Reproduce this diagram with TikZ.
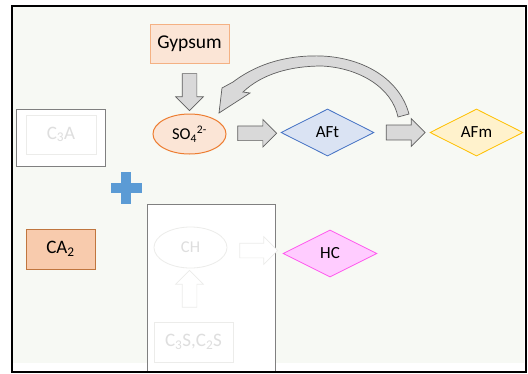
\documentclass[tikz,border=0pt]{standalone}
\usepackage{fontspec}
\setmainfont{Carlito}
\usetikzlibrary{shapes.geometric, shapes.arrows, calc}
\definecolor{panelbg}{HTML}{F7F9F4}
\definecolor{peachfill}{HTML}{FBE5D6}
\definecolor{peachedge}{HTML}{F4B183}
\definecolor{orangeedge}{HTML}{ED7D31}
\definecolor{aftfill}{HTML}{DAE3F3}
\definecolor{aftedge}{HTML}{4472C4}
\definecolor{afmfill}{HTML}{FFF2CC}
\definecolor{afmedge}{HTML}{FFC000}
\definecolor{hcfill}{HTML}{FFCCFF}
\definecolor{hcedge}{HTML}{FF55EE}
\definecolor{cafill}{HTML}{F8CBAD}
\definecolor{caedge}{HTML}{C0763F}
\definecolor{arrowfill}{HTML}{D9D9D9}
\definecolor{arrowedge}{HTML}{5F5F5F}
\definecolor{plusblue}{HTML}{5B9BD5}
\definecolor{faintedge}{HTML}{ECECEA}
\definecolor{fainttext}{HTML}{DEDEDE}

\begin{document}
\begin{tikzpicture}[x=1pt, y=-1pt,
  box/.style={rectangle, draw, line width=0.8pt, inner sep=0pt, font=\fontsize{19}{21}\selectfont},
  gem/.style={diamond, aspect=2, draw, line width=0.8pt, inner sep=0pt, minimum width=93pt, minimum height=47pt, font=\fontsize{17}{19}\selectfont},
  blockarrow/.style={single arrow, draw=arrowedge, fill=arrowfill, line width=0.7pt, inner sep=7pt, minimum width=27pt, single arrow head extend=6.5pt},
  faintarrow/.style={blockarrow, draw=faintedge, fill=white}
]
  \useasboundingbox (0,0) rectangle (528,373);
  % panel
  \fill[white] (0,0) rectangle (528,373);
  \fill[panelbg] (13,7) rectangle (524,363);

  % sulfate route
  \node[box, draw=peachedge, fill=peachfill, minimum width=79pt, minimum height=39pt, font=\fontsize{19.5}{21}\selectfont] (gypsum) at (189.5,43.5) {Gypsum};
  \node[ellipse, draw=orangeedge, fill=peachfill, line width=1pt, inner sep=0pt, minimum width=73pt, minimum height=40pt, font=\fontsize{16.5}{18}\selectfont] (so4) at (189.5,134) {SO\textsubscript{4}\textsuperscript{2-}};
  \node[gem, draw=aftedge, fill=aftfill] (aft) at (327.5,132.5) {AFt};
  \node[gem, draw=afmedge, fill=afmfill] (afm) at (476.5,132.5) {AFm};

  \node[blockarrow, minimum height=37pt, shape border rotate=270] (gyparrow) at ($(gypsum.south)!0.5!(so4.north)$) {};
  \node[blockarrow, minimum height=39pt] (so4arrow) at ($(so4.east)!0.5!(aft.west)$) {};
  \node[blockarrow, minimum height=39pt, minimum width=28pt] (aftarrow) at ($(aft.east)!0.5!(afm.west)$) {};

  % back arrow AFm -> SO4
  \filldraw[fill=arrowfill, draw=arrowedge, line width=0.7pt]
    (409,114) .. controls (400,80) and (365,58) .. (322,56)
    .. controls (295,55) and (262,60) .. (233,82)
    -- (222,88) -- (219,113) -- (250,93) -- (243,92)
    .. controls (262,74) and (290,66) .. (322,66)
    .. controls (360,68) and (392,88) .. (398,117) -- cycle;

  % C3A and CA2
  \node[box, draw=gray, fill=white, minimum width=89pt, minimum height=57pt] (c3aframe) at (60.5,137.5) {};
  \node[box, draw=faintedge, text=fainttext, minimum width=70pt, minimum height=39pt] (c3a) at (61,134.5) {C\textsubscript{3}A};
  \fill[plusblue] (111,183) rectangle (142,193);
  \fill[plusblue] (121,172) rectangle (131,204);
  \node[box, draw=caedge, fill=cafill, minimum width=69pt, minimum height=40pt] (ca2) at (60.5,249) {CA\textsubscript{2}};

  % hydrate route
  \fill[white] (147,204) rectangle (275,372);
  \draw[gray, line width=0.8pt] (147,372) -- (147,204) -- (275,204) -- (275,372);
  \node[ellipse, draw=faintedge, text=fainttext, line width=0.8pt, inner sep=0pt, minimum width=73pt, minimum height=41pt, font=\fontsize{16.5}{18}\selectfont] (ch) at (190.5,247.5) {CH};
  \node[box, draw=faintedge, text=fainttext, minimum width=79pt, minimum height=40pt] (c3s) at (193.5,342) {C\textsubscript{3}S,C\textsubscript{2}S};
  \node[gem, draw=hcedge, fill=hcfill, minimum width=94pt] (hc) at (330,253.5) {HC};
  \node[faintarrow, minimum height=38pt] (charrow) at ($(ch.east)!0.5!(hc.west)$) {};
  \node[faintarrow, minimum height=37pt, shape border rotate=90] (c3sarrow) at (189.5,292.5) {};

  % frame
  \draw[line width=1.4pt] (12,6) rectangle (526,372);
\end{tikzpicture}
\end{document}
